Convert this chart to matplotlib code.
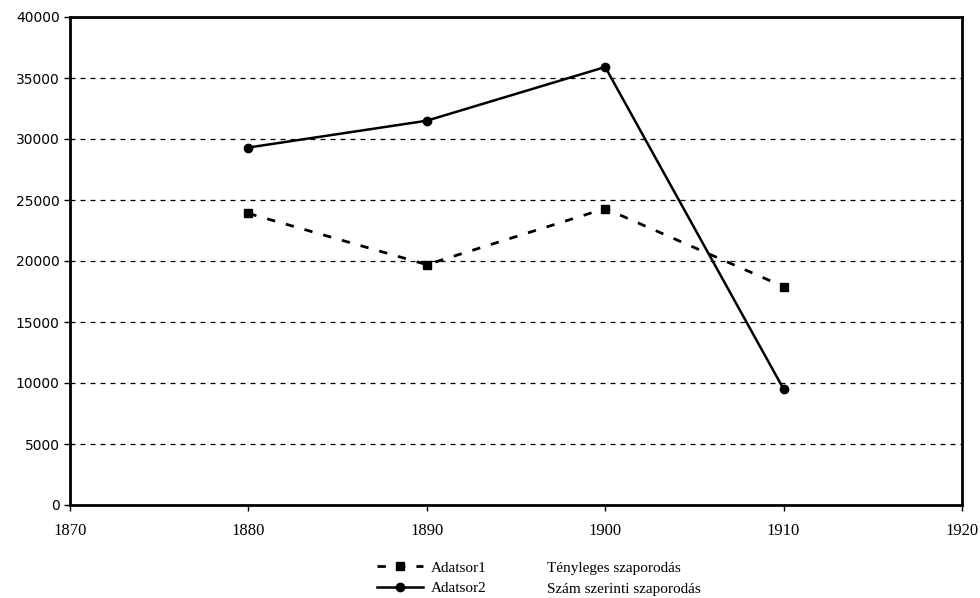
import matplotlib.pyplot as plt

# Data
years = [1880, 1890, 1900, 1910]
adatsor1 = [23900, 19700, 24300, 17900]   # Tényleges szaporodás
adatsor2 = [29300, 31500, 35900, 9500]    # Szám szerinti szaporodás
series_names = ["Adatsor1", "Adatsor2"]
descriptions = ["Tényleges szaporodás", "Szám szerinti szaporodás"]
xticks = [1870, 1880, 1890, 1900, 1910, 1920]
yticks = [0, 5000, 10000, 15000, 20000, 25000, 30000, 35000, 40000]

fig = plt.figure(figsize=(9.8, 5.98), dpi=100)
ax = fig.add_axes([70 / 980, 1 - 505 / 598, 892 / 980, 488 / 598])

ax.plot(years, adatsor1, color="black", linestyle=(0, (3, 4)), linewidth=2,
        marker="s", markersize=6, label=series_names[0])
ax.plot(years, adatsor2, color="black", linestyle="-", linewidth=1.8,
        marker="o", markersize=6, label=series_names[1])

ax.set_xlim(1870, 1920)
ax.set_ylim(0, 40000)
ax.set_xticks(xticks)
ax.set_yticks(yticks)
ax.yaxis.grid(True, color="black", linestyle=(0, (4, 4)), linewidth=0.9)
ax.set_axisbelow(True)

for s in ax.spines.values():
    s.set_linewidth(2)
ax.tick_params(axis="both", direction="out", length=4, width=1)
for lbl in ax.get_xticklabels():
    lbl.set_fontfamily("Liberation Serif")
    lbl.set_fontsize(12)
for lbl in ax.get_yticklabels():
    lbl.set_fontfamily("DejaVu Sans")
    lbl.set_fontsize(10)
ax.tick_params(axis="x", pad=9)

leg = fig.legend(loc="upper left", bbox_to_anchor=(0.385, 0.062), frameon=False,
                 prop={"family": "Liberation Serif", "size": 11},
                 handlelength=3, handletextpad=0.5, labelspacing=0.45,
                 borderpad=0, borderaxespad=0)

fig.text(0.558, 0.049, descriptions[0], family="Liberation Serif", fontsize=11, va="center")
fig.text(0.558, 0.014, descriptions[1], family="Liberation Serif", fontsize=11, va="center")

plt.savefig("out.png", dpi=100)
